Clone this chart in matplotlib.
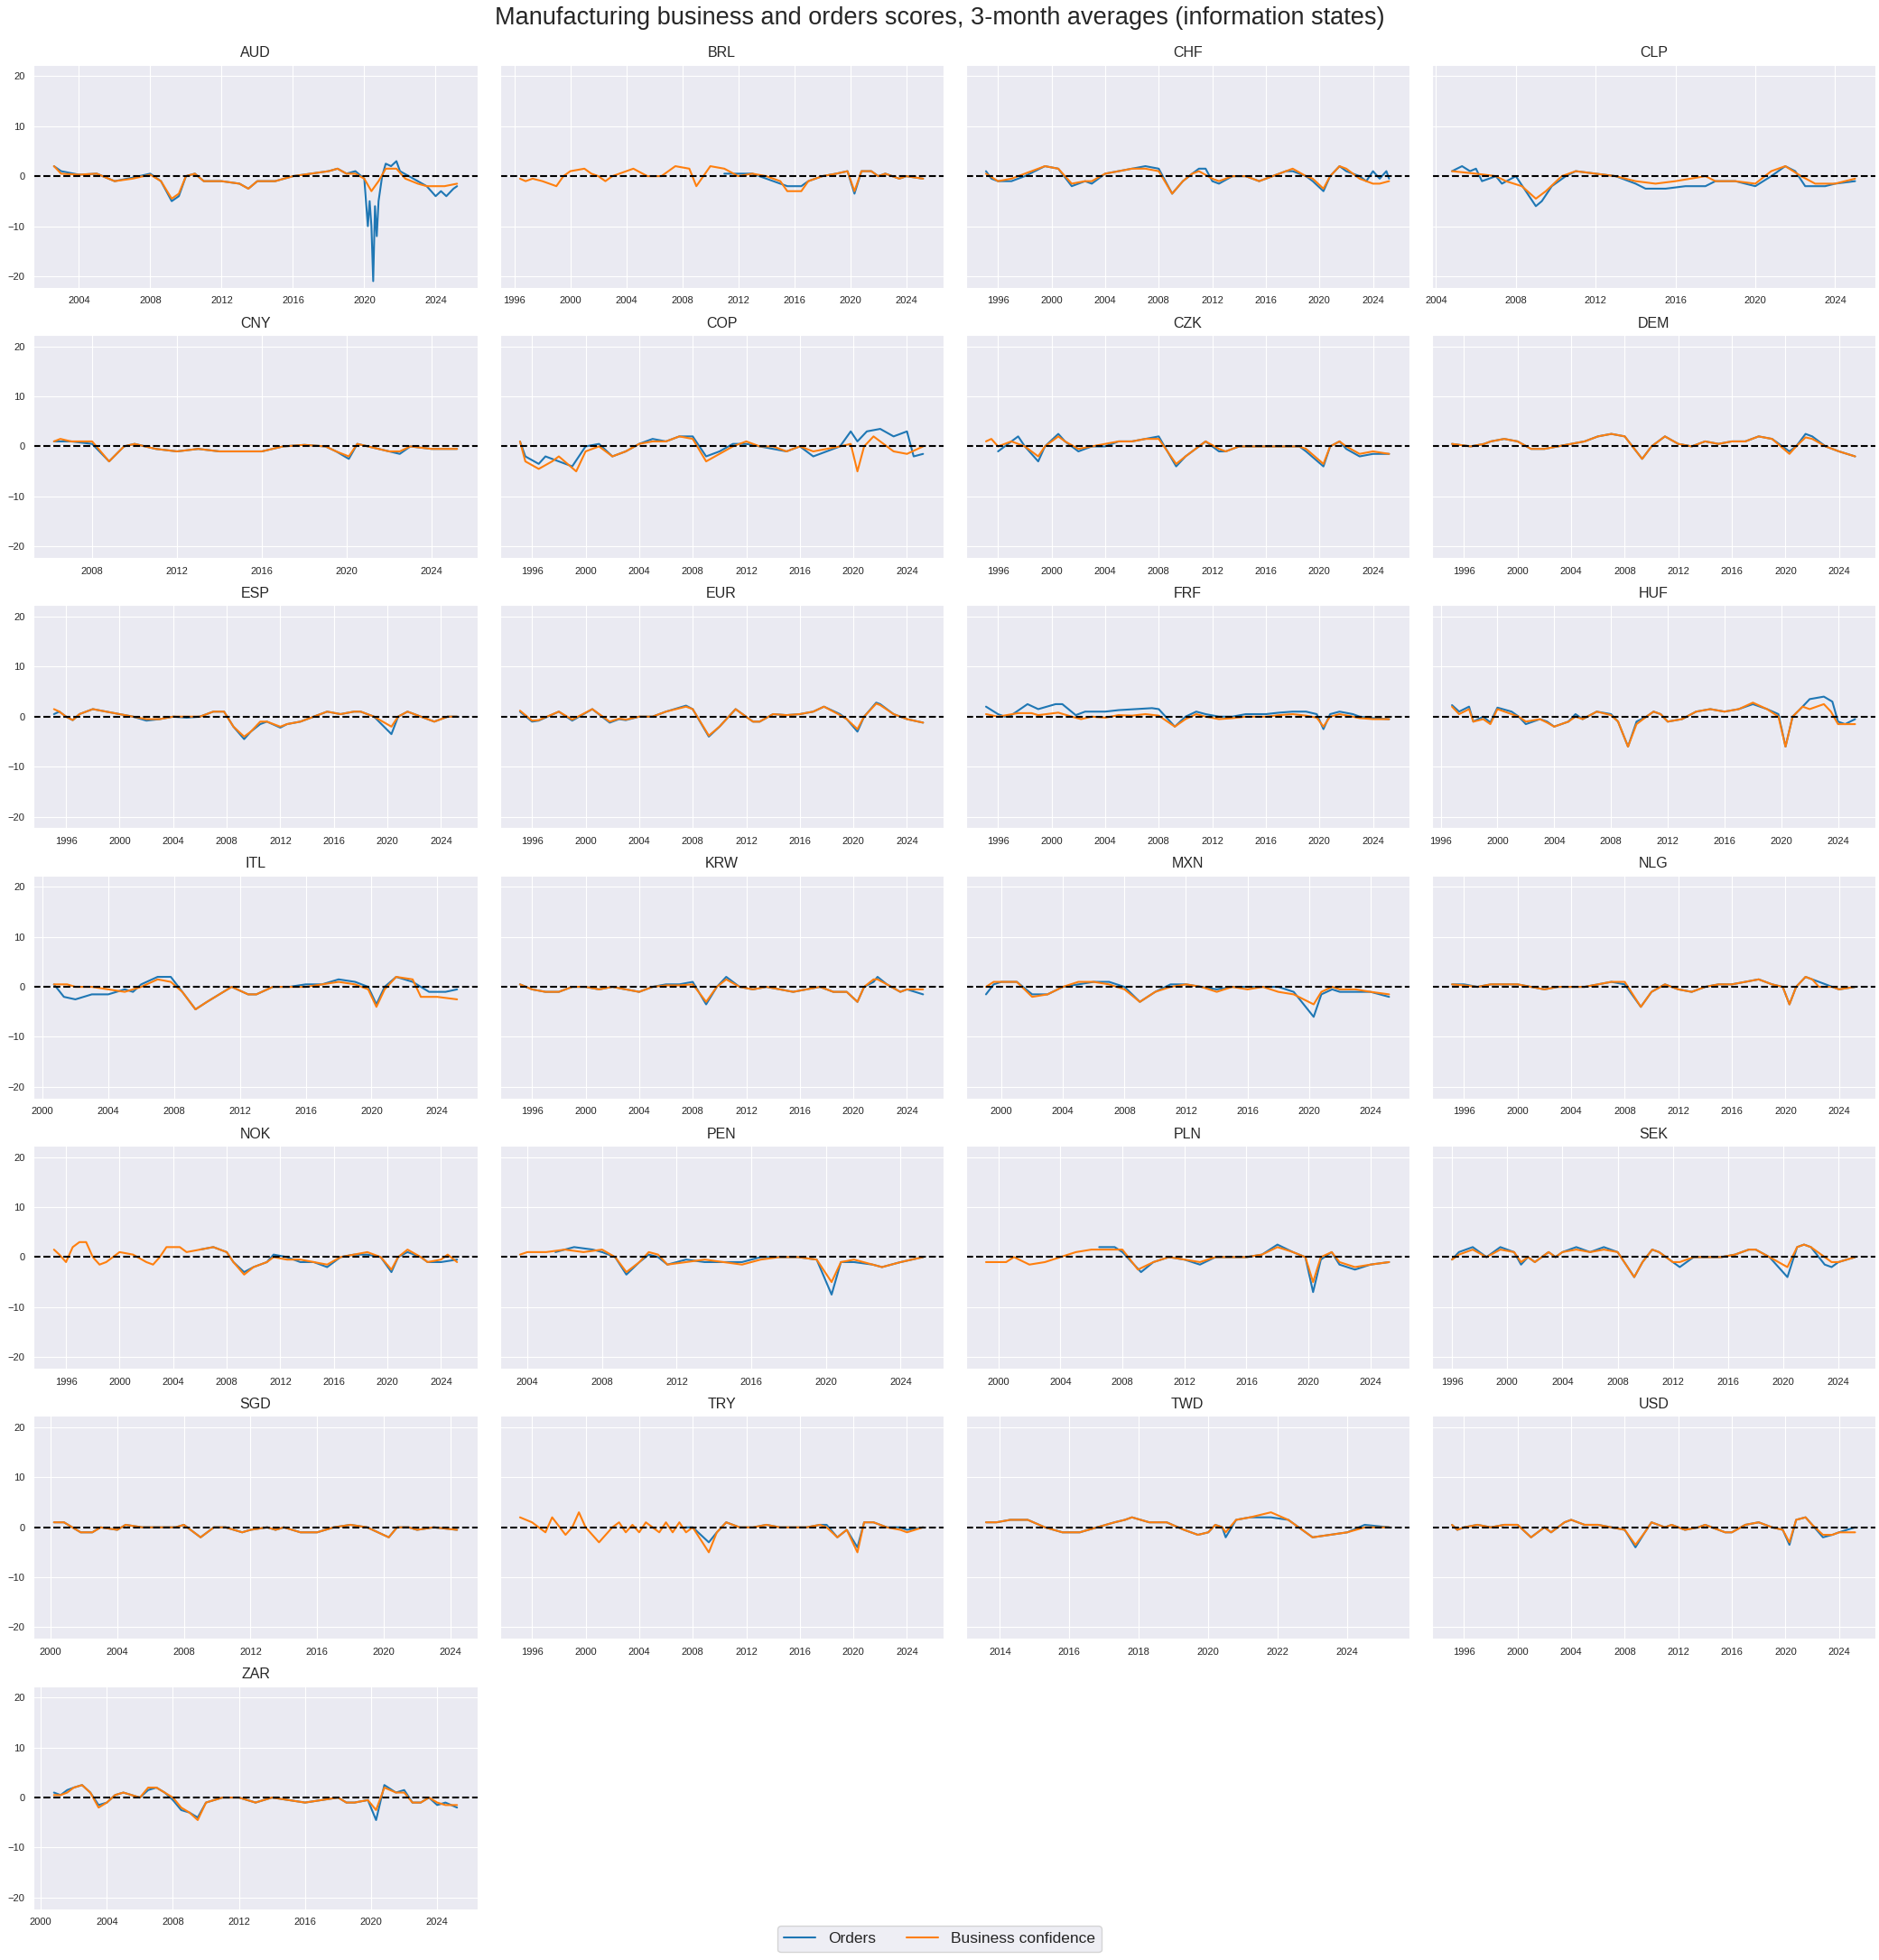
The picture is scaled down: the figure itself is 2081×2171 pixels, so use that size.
import matplotlib
matplotlib.use("Agg")
import matplotlib.pyplot as plt
import matplotlib.dates as mdates
import seaborn as sns
import pandas as pd
import numpy as np

sns.set_style("darkgrid")
plt.rcParams['font.family'] = ['Liberation Sans', 'DejaVu Sans']

TITLE = "Manufacturing business and orders scores, 3-month averages (information states)"
CURRENCIES = ["AUD", "BRL", "CHF", "CLP", "CNY", "COP", "CZK", "DEM", "ESP", "EUR", "FRF", "HUF",
              "ITL", "KRW", "MXN", "NLG", "NOK", "PEN", "PLN", "SEK", "SGD", "TRY", "TWD", "USD", "ZAR"]
SERIES_LABELS = ["Orders", "Business confidence"]

# (decimal year, value) pairs
AUD_ORD = [(2002.6,2),(2003,1),(2004,0.3),(2005,0.5),(2006,-1),(2007,-0.3),(2008,0.5),(2008.6,-1),(2009.2,-5),(2009.6,-4),(2010,0),(2010.5,0.5),(2011,-1),(2012,-1),(2013,-1.5),(2013.5,-2.5),(2014,-1),(2015,-1),(2016,0),(2017,0.5),(2018,1),(2018.5,1.5),(2019,0.5),(2019.5,1),(2020,-0.5),(2020.2,-10),(2020.3,-5),(2020.4,-10),(2020.5,-21),(2020.6,-6),(2020.7,-12),(2020.8,-5),(2021,0),(2021.2,2.5),(2021.5,2),(2021.8,3),(2022,1),(2022.5,0),(2023,-1),(2023.5,-2),(2024,-4),(2024.3,-3),(2024.6,-4),(2025,-2.5),(2025.2,-2)]
AUD_BC = [(2002.6,2),(2003,0.5),(2004,0.3),(2005,0.5),(2006,-1),(2007,-0.5),(2008,0.3),(2008.6,-1),(2009.2,-4.5),(2009.6,-3.5),(2010,0),(2010.5,0.5),(2011,-1),(2012,-1),(2013,-1.5),(2013.5,-2.5),(2014,-1),(2015,-1),(2016,0),(2017,0.5),(2018,1),(2018.5,1.5),(2019,0.5),(2019.5,0.5),(2020,-0.5),(2020.4,-3),(2020.8,-1),(2021.2,1.5),(2021.8,1.5),(2022.3,-0.5),(2023,-1.5),(2023.5,-2),(2024,-2),(2024.5,-2),(2025.2,-1.5)]

BRL_ORD = [(2011,0.5),(2012,0.5),(2013,0.5),(2014,-0.5),(2015,-1.5),(2015.5,-2),(2016.5,-2),(2017,-1),(2018,0),(2019,0.5),(2019.8,1),(2020.3,-3.5),(2020.8,1),(2021.5,1),(2022,0),(2022.5,0.5),(2023.5,-0.5),(2024,0),(2025.2,-0.5)]
BRL_BC = [(1996.4,-0.5),(1996.8,-1),(1997.3,-0.5),(1998,-1),(1999,-2),(1999.5,0),(2000,1),(2001,1.5),(2001.5,0.5),(2002,0),(2002.5,-1),(2003,0),(2004,1),(2004.5,1.5),(2005.5,0),(2006.5,0),(2007,1),(2007.5,2),(2008.5,1.5),(2009,-2),(2009.5,0),(2010,2),(2011,1.5),(2012,0),(2013,0.5),(2014,0),(2015,-1),(2015.5,-3),(2016.5,-3),(2017,-1),(2018,0),(2019,0.5),(2019.8,1),(2020.3,-3),(2020.8,1),(2021.5,1),(2022,0),(2022.5,0.5),(2023.5,-0.5),(2024,0),(2025.2,-0.5)]

CHF_ORD = [(1995.1,1),(1995.5,-0.5),(1996,-1),(1997,-1),(1998,0),(1999.5,2),(2000.5,1.5),(2001.5,-2),(2002.5,-1),(2003,-1.5),(2004,0.5),(2005,1),(2006,1.5),(2007,2),(2008,1.5),(2009,-3.5),(2009.8,-1),(2010.5,0.5),(2011,1.5),(2011.5,1.5),(2012,-1),(2012.5,-1.5),(2013.5,0),(2014.5,0),(2015.5,-1),(2016.5,0),(2017.5,1),(2018,1),(2019,0),(2019.5,-1),(2020.3,-3),(2020.8,0),(2021.5,2),(2022,1),(2023,0),(2023.5,-1),(2024,1),(2024.5,-0.5),(2025,1),(2025.2,-0.5)]
CHF_BC = [(1995.1,0.5),(1996,-1),(1997,-0.5),(1998,0.5),(1999.5,2),(2000.5,1.5),(2001.5,-1.5),(2002.5,-1),(2003,-1),(2004,0.5),(2005,1),(2006,1.5),(2007,1.5),(2008,1),(2009,-3.5),(2009.8,-1),(2010.5,0.5),(2011,1),(2012,-0.5),(2012.5,-1),(2013.5,0),(2014.5,0),(2015.5,-1),(2016.5,0),(2017.5,1),(2018,1.5),(2019,0),(2019.5,-0.5),(2020.3,-2.5),(2020.8,0),(2021.5,2),(2022,1.5),(2023,-0.5),(2024,-1.5),(2024.5,-1.5),(2025.2,-1)]

CLP_ORD = [(2004.8,1),(2005.3,2),(2005.7,1),(2006,1.5),(2006.3,-1),(2007,0),(2007.3,-1.5),(2008,0),(2008.5,-3),(2009,-6),(2009.3,-5),(2009.8,-2),(2010.5,0),(2011,1),(2012,0.5),(2013,0),(2014,-1.5),(2014.5,-2.5),(2015.5,-2.5),(2016.5,-2),(2017.5,-2),(2018,-1),(2019,-1),(2020,-2),(2020.8,0),(2021.5,2),(2022,1),(2022.5,-2),(2023.5,-2),(2024,-1.5),(2025,-1)]
CLP_BC = [(2004.8,1),(2006,0.5),(2007,0),(2007.5,-1),(2008.3,-2),(2009,-4.5),(2009.5,-3),(2010.3,0),(2011,1),(2012,0.5),(2013,0),(2014,-1),(2015,-1.5),(2016,-1),(2017.5,0),(2018,-1),(2019,-1),(2020,-1.5),(2020.8,1),(2021.5,2),(2022.3,0),(2023,-1.5),(2024,-1.5),(2025,-0.5)]

CNY_ORD = [(2006.2,1),(2007,1),(2008,0.5),(2008.8,-3),(2009.5,0),(2010,0.5),(2011,-0.5),(2012,-1),(2013,-0.5),(2014,-1),(2015,-1),(2016,-1),(2017,0),(2018,0.3),(2019,0),(2019.5,-1),(2020.1,-2.5),(2020.5,0.5),(2021,0),(2022,-1),(2022.5,-1.5),(2023,0),(2024,-0.5),(2025.2,-0.5)]
CNY_BC = [(2006.2,1),(2006.5,1.5),(2007,1),(2008,1),(2008.8,-3),(2009.5,0),(2010,0.5),(2011,-0.5),(2012,-1),(2013,-0.5),(2014,-1),(2015,-1),(2016,-1),(2017,0),(2018,0.3),(2019,0),(2019.5,-1),(2020.1,-2),(2020.5,0.5),(2021,0),(2022,-1),(2022.5,-1),(2023,0),(2024,-0.5),(2025.2,-0.5)]

COP_ORD = [(1995.1,1),(1995.5,-2),(1996.5,-3.5),(1997,-2),(1998,-3),(1999,-4),(2000,0),(2001,0.5),(2002,-2),(2003,-1),(2004,0.5),(2005,1.5),(2006,1),(2007,2),(2008,2),(2009,-2),(2010,-1),(2011,0.5),(2012,0.5),(2013,0),(2014,-0.5),(2015,-1),(2016,0),(2017,-2),(2018,-1),(2019,0),(2019.8,3),(2020.3,1),(2021,3),(2022,3.5),(2023,2),(2024,3),(2024.5,-2),(2025.2,-1.5)]
COP_BC = [(1995.1,1),(1995.5,-3),(1996.5,-4.5),(1997.5,-3),(1998,-2),(1999.3,-5),(2000,-1),(2001,0),(2002,-2),(2003,-1),(2004,0.5),(2005,1),(2006,1),(2007,2),(2008,1.5),(2009,-3),(2010,-1.5),(2011,0),(2012,1),(2013,0),(2014,0),(2015,-1),(2016,0),(2017,-1),(2018,-0.5),(2019,0),(2019.8,0.5),(2020.3,-5),(2020.8,0),(2021.5,2),(2022,1),(2023,-1),(2024,-1.5),(2025.2,0)]

CZK_ORD = [(1996,-1),(1996.5,0),(1997.5,2),(1998,0),(1999,-3),(1999.5,0),(2000.5,2.5),(2001,1),(2002,-1),(2003,0),(2004,0),(2005,1),(2006,1),(2007,1.5),(2008,2),(2009.3,-4),(2010,-2),(2011,0),(2011.5,1),(2012.5,-1),(2013,-1),(2014,0),(2015.5,0),(2017,0),(2018.5,0),(2019,-1),(2020.3,-4),(2020.8,0),(2021.5,1),(2022,-0.5),(2023,-2),(2024,-1.5),(2025.2,-1.5)]
CZK_BC = [(1995.1,1),(1995.5,1.5),(1996,0),(1997,1),(1998,0),(1999,-2),(1999.5,0),(2000.5,2),(2001,1),(2002,-0.5),(2003,0),(2004,0.5),(2005,1),(2006,1),(2007,1.5),(2008,1.5),(2009.3,-3.5),(2010,-2),(2011,0),(2011.5,1),(2012.5,-0.5),(2013,-1),(2014,0),(2015.5,0),(2017,0),(2018.5,0),(2019,-0.5),(2020.3,-3.5),(2020.8,0),(2021.5,1),(2022,0),(2023,-1.5),(2024,-1),(2025.2,-1.5)]

DEM_ORD = [(1995.1,0.5),(1996.5,0),(1997.5,0.5),(1998,1),(1999,1.5),(2000,1),(2001,-0.5),(2002,-0.5),(2003,0),(2004,0.5),(2005,1),(2006,2),(2007,2.5),(2008,2),(2009.3,-2.5),(2010,0),(2011,2),(2012,0.5),(2013,0),(2014,1),(2015,0.5),(2016,1),(2017,1),(2018,2),(2019,1.5),(2020.3,-1),(2020.8,0),(2021.5,2.5),(2022,2),(2023,0),(2024,-1),(2025.2,-2)]
DEM_BC = [(1995.1,0.5),(1996.5,0),(1997.5,0.5),(1998,1),(1999,1.5),(2000,1),(2001,-0.5),(2002,-0.5),(2003,0),(2004,0.5),(2005,1),(2006,2),(2007,2.5),(2008,2),(2009.3,-2.5),(2010,0),(2011,2),(2012,0.5),(2013,0),(2014,1),(2015,0.5),(2016,1),(2017,1),(2018,2),(2019,1.5),(2020.3,-1.5),(2020.8,0),(2021.5,1.8),(2022,1.5),(2023,0),(2024,-1),(2025.2,-2)]

ESP_ORD = [(1995.1,0.5),(1995.5,1),(1996,0),(1996.5,-0.7),(1997,0.5),(1998,1.5),(1999,1),(2000,0.5),(2001,0),(2002,-0.8),(2003,-0.5),(2004,0),(2005,-0.2),(2006,0),(2007,1),(2007.8,1),(2008.5,-2),(2009.3,-4.5),(2009.8,-3),(2010.5,-1.5),(2011,-1),(2012,-2.2),(2012.5,-1.5),(2013.5,-1),(2014.5,0),(2015.5,1),(2016.5,0.5),(2017.5,1),(2018,1),(2019,0),(2020.3,-3.5),(2020.8,0),(2021.5,1),(2022.5,0),(2023.5,-1),(2024.5,0),(2025.2,0)]
ESP_BC = [(1995.1,1.5),(1995.5,1),(1996,0),(1996.5,-0.7),(1997,0.5),(1998,1.5),(1999,1),(2000,0.5),(2001,0),(2002,-0.5),(2003,-0.5),(2004,0),(2005,0),(2006,0),(2007,1),(2007.8,1),(2008.5,-2),(2009.3,-4),(2009.8,-3),(2010.5,-1),(2011,-1),(2012,-2),(2012.5,-1.5),(2013.5,-1),(2014.5,0),(2015.5,1),(2016.5,0.5),(2017.5,1),(2018,1),(2019,0),(2020.3,-2),(2020.8,0),(2021.5,1),(2022.5,0),(2023.5,-1),(2024.5,0),(2025.2,0)]

EUR_ORD = [(1995.1,1),(1996,-1),(1996.5,-0.8),(1998,1),(1999,-0.8),(2000.5,1.5),(2001.8,-1.2),(2002.5,-0.5),(2003,-0.7),(2004,0),(2005,0),(2006,1),(2007.5,2.2),(2008,1.5),(2009.2,-4),(2010,-2),(2011.2,1.5),(2012.5,-1),(2013,-1),(2014,0.5),(2015,0.3),(2016,0.5),(2017,1),(2017.8,2),(2019,0.5),(2019.5,-0.5),(2020.3,-3),(2020.8,0),(2021.7,2.8),(2022,2.5),(2023,0.5),(2024,-0.5),(2025.2,-1.2)]
EUR_BC = [(1995.1,1.2),(1996,-0.8),(1996.5,-0.7),(1998,1),(1999,-0.6),(2000.5,1.5),(2001.8,-1),(2002.5,-0.4),(2003,-0.6),(2004,0),(2005,0),(2006,1),(2007.5,2),(2008,1.5),(2009.2,-3.8),(2010,-2),(2011.2,1.5),(2012.5,-1),(2013,-1),(2014,0.5),(2015,0.3),(2016,0.5),(2017,1),(2017.8,2),(2019,0.3),(2019.5,-0.5),(2020.3,-2.5),(2020.8,0),(2021.7,2.6),(2022,2.3),(2023,0.5),(2024,-0.5),(2025.2,-1.2)]

FRF_ORD = [(1995.1,2),(1996,0.5),(1996.5,0),(1997,0.3),(1998.2,2.5),(1999,1.5),(2000.3,2.5),(2000.8,2.5),(2001.8,0.3),(2002.5,1),(2004,1),(2005,1.3),(2007.5,1.7),(2008,1.5),(2009.2,-2),(2010,0),(2010.8,1),(2011.5,0.5),(2012.5,0),(2013.5,0),(2014.5,0.5),(2016,0.5),(2017,0.8),(2018,1),(2019,1),(2019.8,0.5),(2020.3,-2.5),(2020.8,0.5),(2021.5,1),(2022.5,0.5),(2023,0),(2024,-0.3),(2025.2,-0.5)]
FRF_BC = [(1995.1,0.5),(1996,0),(1997.5,0.7),(1998.5,0.7),(1999,0.3),(2000.5,0.8),(2001.5,0),(2002.2,-0.5),(2003,0),(2004,-0.2),(2005,0.3),(2006,0.2),(2007,0.5),(2008,0.2),(2009.2,-2),(2010,-0.5),(2010.8,0.5),(2011.5,0),(2012.5,-0.5),(2013.5,-0.3),(2014.5,0),(2016,0),(2017,0.3),(2018,0.5),(2019,0.2),(2019.8,-0.2),(2020.3,-2),(2020.8,0),(2021.5,0.5),(2022.5,0),(2023,-0.3),(2024,-0.5),(2025.2,-0.5)]

HUF_ORD = [(1996.8,2.3),(1997.3,1),(1998,2),(1998.3,-1),(1999,0),(1999.5,-1.2),(2000,1.8),(2001,1),(2001.5,0),(2002,-1.5),(2003,-0.5),(2003.5,-1),(2004,-2),(2005,-1),(2005.5,0.5),(2006,-0.5),(2007,1),(2008,0.5),(2008.5,-1),(2009.2,-6),(2009.8,-1),(2010.5,0),(2011,1),(2011.5,0.5),(2012,-1),(2013,-0.5),(2014,1),(2015,1.5),(2016,1),(2017,1.5),(2018,2.5),(2019,1.5),(2019.8,0.5),(2020.3,-6),(2020.8,0),(2021.5,2),(2022,3.5),(2023,4),(2023.6,3),(2024,-1),(2024.5,-1.5),(2025.2,-0.5)]
HUF_BC = [(1996.8,2),(1997.3,0.5),(1998,1.5),(1998.3,-1),(1999,-0.5),(1999.5,-1.5),(2000,1.5),(2001,0.5),(2001.5,0),(2002,-1),(2003,-0.5),(2003.5,-1.2),(2004,-2),(2005,-1),(2005.5,0),(2006,-0.5),(2007,1),(2008,0.3),(2008.5,-1),(2009.2,-6),(2009.8,-1.5),(2010.5,0),(2011,1),(2011.5,0.5),(2012,-1),(2013,-0.5),(2014,1),(2015,1.5),(2016,1),(2017,1.5),(2018,2.8),(2019,1.5),(2019.8,0),(2020.3,-6),(2020.8,0),(2021.5,2),(2022,1.5),(2023,2.5),(2023.5,1),(2024,-1.5),(2024.5,-1.5),(2025.2,-1.5)]

ITL_ORD = [(2000.7,0.5),(2001.3,-2),(2002,-2.5),(2003,-1.5),(2004,-1.5),(2005,-0.5),(2005.5,-1),(2006,0.5),(2007,2),(2007.8,2),(2008.5,-1),(2009.3,-4.5),(2010,-3),(2011,-1),(2011.5,0),(2012.5,-1.5),(2013,-1.5),(2014,0),(2015,0),(2016,0.5),(2017,0.5),(2018,1.5),(2019,1),(2019.8,0),(2020.3,-3.5),(2020.8,0),(2021.5,2),(2022.5,1),(2023,0),(2023.5,-1),(2024.5,-1),(2025.2,-0.5)]
ITL_BC = [(2000.7,0.5),(2001.5,0.5),(2002,0),(2003,0),(2004,-0.5),(2005,-1),(2006,0),(2007,1.5),(2007.8,1),(2008.5,-1),(2009.3,-4.5),(2010,-3),(2011,-1),(2011.5,0),(2012.5,-1.5),(2013,-1.5),(2014,0),(2015,0),(2016,0),(2017,0.5),(2018,1),(2019,0.5),(2019.8,-0.5),(2020.3,-4),(2020.8,-0.5),(2021.5,2),(2022.5,1.5),(2023,-2),(2024,-2),(2025.2,-2.5)]

KRW_ORD = [(1995.1,0.5),(1996,-0.5),(1997,-1),(1998,-1),(1999,0),(2000,0),(2001,-0.5),(2002,0),(2003,-0.5),(2004,-1),(2005,0),(2006,0.5),(2007,0.5),(2008,1),(2009,-3.5),(2009.8,0),(2010.5,2),(2011.5,0),(2012.5,-0.5),(2013.5,0),(2014.5,-0.5),(2015.5,-1),(2016.5,-0.5),(2017.5,0),(2018.5,-1),(2019.5,-1),(2020.3,-3),(2020.8,0),(2021.5,1),(2021.8,2),(2022.5,0.5),(2023.5,-1),(2024,-0.5),(2025.2,-1.5)]
KRW_BC = [(1995.1,0.5),(1996,-0.5),(1997,-1),(1998,-1),(1999,0),(2000,0),(2001,-0.5),(2002,0),(2003,-0.5),(2004,-1),(2005,0),(2006,0.3),(2007,0.3),(2008,0.5),(2009,-3),(2009.8,0),(2010.5,1.5),(2011.5,0),(2012.5,-0.5),(2013.5,0),(2014.5,-0.5),(2015.5,-1),(2016.5,-0.5),(2017.5,0),(2018.5,-1),(2019.5,-1),(2020.3,-3),(2020.8,0),(2021.5,1.5),(2021.8,1.5),(2022.5,0.5),(2023.5,-1),(2024,-0.5),(2025.2,-0.5)]

MXN_ORD = [(1999,-1.5),(1999.5,0.5),(2000,1),(2001,1),(2002,-1.5),(2003,-1.5),(2004,0),(2005,0.5),(2006,1),(2007,1),(2008,0),(2009,-3),(2010,-1),(2011,0.5),(2012,0.5),(2013,0),(2014,-0.5),(2015,0),(2016,0),(2017,0),(2018,0),(2019,-1),(2020.3,-6),(2020.8,-1.5),(2021.5,-0.5),(2022,-1),(2023,-1),(2024,-1),(2025.2,-2)]
MXN_BC = [(1999,0),(1999.5,1),(2000,1),(2001,1),(2002,-2),(2003,-1.5),(2004,0),(2005,1),(2006,1),(2007,0.5),(2008,-0.5),(2009,-3),(2010,-1),(2011,0),(2012,0.5),(2013,0),(2014,-1),(2015,0),(2016,-0.5),(2017,0),(2018,-1),(2019,-1.5),(2020.3,-3.5),(2020.8,-1),(2021.5,0),(2022,-0.5),(2023,-0.5),(2024,-1),(2025.2,-1.5)]

NLG_ORD = [(1995.1,0.5),(1996,0.5),(1997,0),(1998,0.5),(1999,0.5),(2000,0.5),(2001,0),(2002,-0.5),(2003,0),(2004,0),(2005,0),(2006,0.5),(2007,1),(2008,0.5),(2009.2,-4),(2010,-1),(2011,0.5),(2012,-0.5),(2013,-1),(2014,0),(2015,0.5),(2016,0.5),(2017,1),(2018,1.5),(2019,0.5),(2019.8,0),(2020.3,-3.5),(2020.8,0),(2021.5,2),(2022,1.5),(2022.5,1),(2023.5,0),(2024,-0.5),(2025.2,0)]
NLG_BC = [(1995.1,0.5),(1996,0.3),(1997,0),(1998,0.5),(1999,0.5),(2000,0.5),(2001,0),(2002,-0.5),(2003,0),(2004,0),(2005,0),(2006,0.5),(2007,1),(2008,1),(2009.2,-4),(2010,-1),(2011,0.5),(2012,-0.5),(2013,-1),(2014,0),(2015,0.5),(2016,0.5),(2017,1),(2018,1.5),(2019,0.5),(2019.8,0),(2020.3,-3.5),(2020.8,0),(2021.5,2),(2022,1.5),(2022.5,0),(2023.5,0),(2024,-0.5),(2025.2,0)]

NOK_ORD = [(2006,1.5),(2007,2),(2008,1),(2008.5,-1),(2009.3,-3),(2010,-2),(2011,-1),(2011.5,0.5),(2012.5,0),(2013.5,-1),(2014.5,-1),(2015.5,-2),(2016.5,0),(2017.5,0.5),(2018.5,0.5),(2019.5,0),(2020.3,-3),(2020.8,0),(2021.5,1),(2022.5,0),(2023,-1),(2024,-1),(2025.2,-0.5)]
NOK_BC = [(1995.1,1.5),(1995.5,0.5),(1996,-1),(1996.5,2),(1997,3),(1997.5,3),(1998,0),(1998.5,-1.5),(1999,-1),(1999.5,0),(2000,1),(2001,0.5),(2002,-1),(2002.5,-1.5),(2003,0),(2003.5,2),(2004.5,2),(2005,1),(2006,1.5),(2007,2),(2008,1),(2008.5,-1),(2009.3,-3.5),(2010,-2),(2011,-1),(2011.5,0),(2012.5,-0.5),(2013.5,-0.5),(2014.5,-1),(2015.5,-1.5),(2016.5,0),(2017.5,0.5),(2018.5,1),(2019.5,0),(2020.3,-2.5),(2020.8,0),(2021.5,1.5),(2022.5,0),(2023,-1),(2024,-0.5),(2024.5,0.5),(2025.2,-1)]

PEN_ORD = [(2005.5,1),(2006.5,2),(2007.5,1.5),(2008,1),(2008.7,0),(2009.3,-3.5),(2010,-1),(2010.5,0.5),(2011,0),(2011.5,-1.5),(2012.5,-0.5),(2013.5,-1),(2014.5,-1),(2015.5,-1),(2016.5,0),(2017.5,0),(2018.5,0),(2019.5,-0.5),(2020.3,-7.5),(2020.8,-1),(2021.5,-1),(2022.5,-1.5),(2023,-2),(2024,-1),(2025.2,0)]
PEN_BC = [(2003.6,0.5),(2004,1),(2005,1),(2006,1.5),(2007,1),(2008,1.5),(2008.7,0),(2009.3,-3),(2010,-1),(2010.5,1),(2011,0.5),(2011.5,-1.5),(2012.5,-1),(2013.5,-0.5),(2014.5,-1),(2015.5,-1.5),(2016.5,-0.5),(2017.5,0),(2018.5,0),(2019.5,-0.5),(2020.3,-5),(2020.8,-1),(2021.5,-0.5),(2022.5,-1.5),(2023,-2),(2024,-1),(2025.2,0)]

PLN_ORD = [(2006.5,2),(2007.5,2),(2008,1),(2009.2,-3),(2010,-1),(2011,0),(2012,-0.5),(2013,-1.5),(2014,0),(2015,0),(2016,0),(2017,0.5),(2018,2.5),(2019,1),(2019.8,0),(2020.3,-7),(2020.8,-0.5),(2021.5,1),(2022,-1.5),(2023,-2.5),(2024,-1.5),(2025.2,-1)]
PLN_BC = [(1999.2,-1),(2000,-1),(2000.5,-1),(2001,0),(2002,-1.5),(2003,-1),(2004,0),(2005,1),(2006,1.5),(2007,1.5),(2008,1.5),(2009,-2.5),(2010,-1),(2011,0),(2012,-0.5),(2013,-1),(2014,0),(2015,0),(2016,0),(2017,0.5),(2018,2),(2019,1),(2019.8,0),(2020.3,-5),(2020.8,0),(2021.5,1),(2022,-1),(2023,-2),(2024,-1.5),(2025.2,-1)]

SEK_ORD = [(1996,-0.5),(1996.5,1),(1997.5,2),(1998.5,0),(1999.5,2),(2000.5,1),(2001,-1.5),(2001.5,0),(2002,-1),(2003,1),(2003.5,0),(2004,1),(2005,2),(2006,1),(2007,2),(2008,1),(2009.2,-4),(2009.8,-1),(2010.5,1.5),(2011,1),(2012,-1),(2012.5,-2),(2013.5,0),(2014.5,0),(2015.5,0),(2016.5,0.5),(2017.5,1.5),(2018,1.5),(2019,0),(2020.3,-4),(2021,2),(2021.5,2.5),(2022,2),(2023,-1.5),(2023.5,-2),(2024,-1),(2025.2,0)]
SEK_BC = [(1996,-0.5),(1996.5,0.5),(1997.5,1.5),(1998.5,0),(1999.5,1.5),(2000.5,1),(2001,-1),(2001.5,0),(2002,-1),(2003,1),(2003.5,0),(2004,1),(2005,1.5),(2006,1),(2007,1.5),(2008,1),(2009.2,-4),(2009.8,-1),(2010.5,1.5),(2011,1),(2012,-1),(2012.5,-1),(2013.5,0),(2014.5,0),(2015.5,0),(2016.5,0.5),(2017.5,1.5),(2018,1.5),(2019,0),(2020.3,-2),(2021,2),(2021.5,2.5),(2022,2),(2023,0),(2023.5,-1),(2024,-1),(2025.2,0)]

SGD_ORD = [(2000.2,1),(2000.8,1),(2001.3,0),(2001.8,-1),(2002.5,-1),(2003,0),(2004,-0.5),(2004.5,0.5),(2005.5,0),(2006.5,0),(2007.5,0),(2008,0.5),(2009,-2),(2009.8,0),(2010.5,0),(2011.5,-1),(2012,-0.5),(2013,0),(2013.5,-0.5),(2014,0),(2015,-1),(2016,-1),(2017,0),(2018,0.5),(2019,0),(2020.3,-2),(2020.8,0),(2021.5,0),(2022,-0.5),(2023,0),(2024.4,-0.5)]
SGD_BC = [(2000.2,1),(2000.8,1),(2001.3,0),(2001.8,-1),(2002.5,-1),(2003,0),(2004,-0.5),(2004.5,0.5),(2005.5,0),(2006.5,0),(2007.5,0),(2008,0.5),(2009,-2),(2009.8,0),(2010.5,0),(2011.5,-1),(2012,-0.5),(2013,0),(2013.5,-0.5),(2014,0),(2015,-1),(2016,-1),(2017,0),(2018,0.5),(2019,0),(2020.3,-2),(2020.8,0),(2021.5,0),(2022,-0.5),(2023,0),(2024.4,-0.5)]

TRY_ORD = [(2007.5,0),(2008,0),(2009.2,-3),(2009.8,-1),(2010.5,1),(2011.5,0),(2012.5,0),(2013.5,0.5),(2014.5,0),(2015.5,0),(2016.5,0),(2017.5,0.5),(2018,0.5),(2018.8,-2),(2019.5,-0.5),(2020.3,-4),(2020.8,1),(2021.5,1),(2022.5,0),(2023.5,0),(2024,-0.5),(2025.2,0)]
TRY_BC = [(1995.1,2),(1996,1),(1996.5,0),(1997,-1),(1997.5,2),(1998.5,-1.5),(1999,0),(1999.5,3),(2000,0),(2001,-3),(2002,0),(2002.5,1),(2003,-1),(2003.5,0.5),(2004,-1),(2004.5,1),(2005.5,-1),(2006,1),(2006.5,-1),(2007,1),(2007.5,-1),(2008,0),(2009.2,-5),(2009.8,-1),(2010.5,1),(2011.5,0),(2012.5,0),(2013.5,0.5),(2014.5,0),(2015.5,0),(2016.5,0),(2017.5,0.5),(2018,0),(2018.8,-2),(2019.5,-0.5),(2020.3,-5),(2020.8,1),(2021.5,1),(2022.5,0),(2023.5,-0.5),(2024,-1),(2025.2,0)]

TWD_ORD = [(2013.6,1),(2013.9,1),(2014.3,1.5),(2014.8,1.5),(2015.3,0),(2015.8,-1),(2016.3,-1),(2016.8,0),(2017.3,1),(2017.6,1.5),(2017.8,2),(2018.3,1),(2018.8,1),(2019.3,-0.5),(2019.7,-1.5),(2020.0,-1),(2020.2,0.5),(2020.4,0),(2020.5,-2),(2020.8,1.5),(2021.2,2),(2021.5,2),(2021.8,2),(2022.3,1.5),(2022.8,-1),(2023.0,-2),(2023.5,-1.5),(2024,-1),(2024.5,0.5),(2025.2,0)]
TWD_BC = [(2013.6,1),(2013.9,1),(2014.3,1.5),(2014.8,1.5),(2015.3,0),(2015.8,-1),(2016.3,-1),(2016.8,0),(2017.3,1),(2017.6,1.5),(2017.8,2),(2018.3,1),(2018.8,1),(2019.3,-0.5),(2019.7,-1.5),(2020.0,-1),(2020.2,0.5),(2020.4,0),(2020.5,-1),(2020.8,1.5),(2021.2,2),(2021.5,2.5),(2021.8,3),(2022.3,1.5),(2022.8,-1),(2023.0,-2),(2023.5,-1.5),(2024,-1),(2024.5,0),(2025.2,0)]

USD_ORD = [(1995.1,0.5),(1995.5,-0.5),(1996,0),(1997,0.5),(1998,0),(1999,0.5),(2000,0.5),(2001,-2),(2002,0),(2002.5,-1),(2003.5,1),(2004,1.5),(2005,0.5),(2006,0.5),(2007,0),(2008,-0.5),(2008.8,-4),(2009.5,-1),(2010,1),(2011,0),(2011.5,0.5),(2012.5,-0.5),(2013.5,0),(2014,0.5),(2015.5,-1),(2016,-1),(2017,0.5),(2018,1),(2019,0),(2019.8,-0.5),(2020.3,-3.5),(2020.8,1.5),(2021.5,2),(2022,0.5),(2022.8,-2),(2023.5,-1.5),(2024,-1),(2025.2,0)]
USD_BC = [(1995.1,0.5),(1995.5,-0.5),(1996,0),(1997,0.5),(1998,0),(1999,0.5),(2000,0.5),(2001,-2),(2002,0),(2002.5,-1),(2003.5,1),(2004,1.5),(2005,0.5),(2006,0.5),(2007,0),(2008,-0.5),(2008.8,-3.5),(2009.5,-1),(2010,1),(2011,0),(2011.5,0.5),(2012.5,-0.5),(2013.5,0),(2014,0.5),(2015.5,-1),(2016,-1),(2017,0.5),(2018,1),(2019,0),(2019.8,-0.5),(2020.3,-3),(2020.8,1.5),(2021.5,2),(2022,0.5),(2022.8,-1.5),(2023.5,-1.5),(2024,-1),(2025.2,-1)]

ZAR_ORD = [(2000.8,1),(2001.2,0.5),(2001.6,1.5),(2002,2),(2002.5,2.5),(2003,1),(2003.5,-1.5),(2004,-1),(2004.5,0.5),(2005,1),(2006,0),(2006.5,1.5),(2007,2),(2007.5,1),(2008,-0.5),(2008.5,-2.5),(2009,-3),(2009.5,-4),(2010,-1),(2011,0),(2012,0),(2013,-1),(2014,0),(2015,-0.5),(2016,-1),(2017,-0.5),(2018,0),(2018.5,-1),(2019,-1),(2019.8,-0.5),(2020.3,-4.5),(2020.8,2.5),(2021.5,1),(2022,1.5),(2022.5,-1),(2023,-1),(2023.5,0),(2024,-1.5),(2024.5,-1),(2025.2,-2)]
ZAR_BC = [(2000.8,0.5),(2001.2,0.5),(2001.6,1),(2002,2),(2002.5,2.5),(2003,1),(2003.5,-2),(2004,-1),(2004.5,0.5),(2005,1),(2006,0),(2006.5,2),(2007,2),(2007.5,1),(2008,0),(2008.5,-2),(2009,-3),(2009.5,-4.5),(2010,-1),(2011,0),(2012,0),(2013,-1),(2014,0),(2015,-0.5),(2016,-1),(2017,-0.5),(2018,0),(2018.5,-1),(2019,-1),(2019.8,-0.5),(2020.3,-2.5),(2020.8,2),(2021.5,1),(2022,1),(2022.5,-1),(2023,-1),(2023.5,0),(2024,-1),(2024.5,-1.5),(2025.2,-1.5)]

ORDERS = {c: globals()[f"{c}_ORD"] for c in CURRENCIES}
CONFIDENCE = {c: globals()[f"{c}_BC"] for c in CURRENCIES}


def to_dates(pairs):
    ts = [p[0] for p in pairs]
    vs = [p[1] for p in pairs]
    dates = [pd.Timestamp(int(t), 1, 1) + pd.Timedelta(days=(t - int(t)) * 365.25) for t in ts]
    return dates, vs


fig, axes = plt.subplots(7, 4, figsize=(20.81, 21.71), dpi=100, sharey=True)
fig.subplots_adjust(left=0.018, right=0.998, top=0.967, bottom=0.026, wspace=0.051, hspace=0.212)

handles = None
for i, cur in enumerate(CURRENCIES):
    ax = axes.flat[i]
    d1, v1 = to_dates(ORDERS[cur])
    d2, v2 = to_dates(CONFIDENCE[cur])
    h1, = ax.plot(d1, v1, color='#1f77b4', lw=1.5, label=SERIES_LABELS[0])
    h2, = ax.plot(d2, v2, color='#ff7f0e', lw=1.5, label=SERIES_LABELS[1])
    ax.axhline(0, color='black', linestyle='--', lw=1.5)
    ax.set_title(cur, fontsize=11.5)
    ax.tick_params(labelsize=8)
    ax.set_yticks([-20, -10, 0, 10, 20])
    span = max(p[0] for p in ORDERS[cur] + CONFIDENCE[cur]) - min(p[0] for p in ORDERS[cur] + CONFIDENCE[cur])
    ax.xaxis.set_major_locator(mdates.YearLocator(4 if span > 14 else 2))
    ax.xaxis.set_major_formatter(mdates.DateFormatter('%Y'))
    if handles is None:
        handles = [h1, h2]

axes.flat[0].set_ylim(-22.3, 22.3)
for j in range(len(CURRENCIES), 28):
    axes.flat[j].remove()

fig.suptitle(TITLE, fontsize=19.5, y=0.997)
fig.legend(handles, SERIES_LABELS, loc='lower center', bbox_to_anchor=(0.5, 0.0), ncol=2, fontsize=12.5)
fig.savefig("out.png", dpi=100)
